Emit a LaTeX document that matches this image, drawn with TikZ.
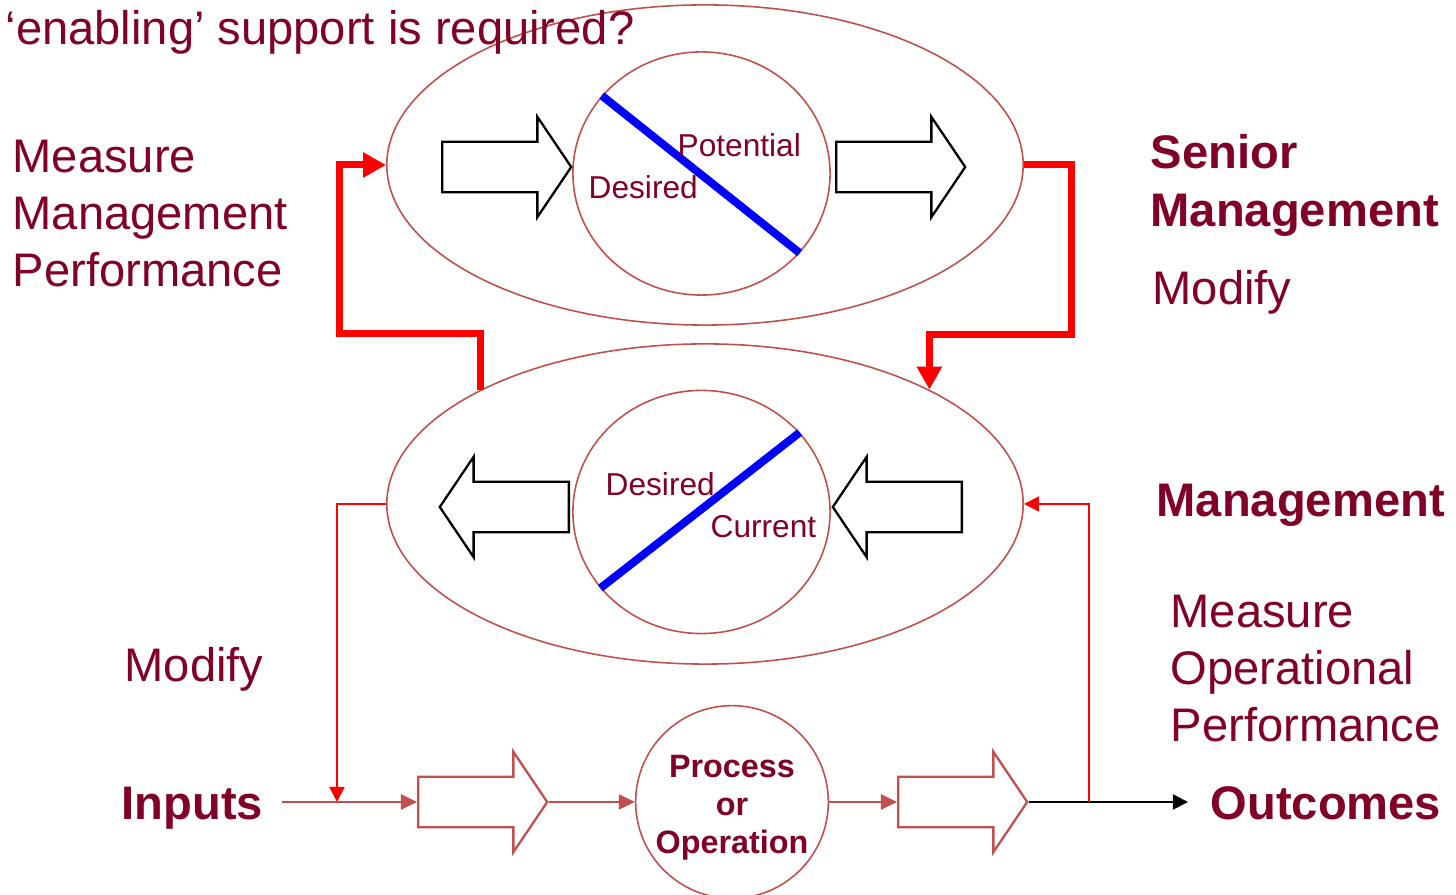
\documentclass[tikz,border=0pt]{standalone}
\usepackage{fontspec}
\setmainfont{Liberation Sans}
\usepackage{xcolor}
\usepackage{tikz}
\usetikzlibrary{shapes}
\usetikzlibrary{shapes.geometric}
\usetikzlibrary{shapes.arrows}
\usetikzlibrary{arrows.meta}
\usetikzlibrary{positioning}
\definecolor{wine}{RGB}{128,0,38}
\definecolor{rimred}{RGB}{192,80,77}
\tikzset{
    bigtext/.style = {text=wine, inner sep=0pt, align=left, font=\fontsize{13.4}{16.3}\selectfont},
    bigbold/.style = {text=wine, inner sep=0pt, align=left, font=\fontsize{13.4}{16.6}\selectfont\bfseries},
    smalltext/.style = {text=wine, inner sep=0pt, font=\fontsize{9}{11}\selectfont},
    levelring/.style = {ellipse, draw=rimred, line width=0.45pt, minimum width=6.36cm, minimum height=3.2cm, inner sep=0pt},
    gapring/.style = {ellipse, draw=rimred, line width=0.45pt, minimum width=2.57cm, minimum height=2.43cm, inner sep=0pt},
    procring/.style = {circle, draw=rimred, line width=0.45pt, minimum size=1.92cm, inner sep=0pt, align=center, text=wine, font=\fontsize{9.2}{10.8}\selectfont\bfseries},
    blockarrow/.style = {single arrow, draw=black, line width=0.65pt, minimum height=1.29cm, text width=0pt, text height=0.24cm, text depth=0.24cm, single arrow head extend=0.25cm, single arrow tip angle=112, inner sep=0pt},
    flowarrow/.style = {blockarrow, draw=rimred},
}

\begin{document}
\begin{tikzpicture}[
	x=0.01cm, y=-0.01cm,
	fbthick/.style = {draw=red, line width=0.07cm, -{Triangle[length=0.23cm,width=0.24cm]}},
	fbthin/.style = {draw=red, line width=0.5pt, -{Triangle[length=0.15cm,width=0.15cm]}},
	flow/.style = {draw=rimred, line width=0.6pt, -{Triangle[length=0.16cm,width=0.15cm]}},
	outflow/.style = {draw=black, line width=0.6pt, -{Triangle[length=0.15cm,width=0.15cm]}},
	slash/.style = {draw=blue, line width=0.08cm}
]
\useasboundingbox (0,0) rectangle (1456,895);
% levels
\node[levelring] (senior) at (705,165) {};
\node[levelring] (oper) at (705,504) {};
\node[gapring] (seniorgap) at (701.5,173.5) {};
\node[gapring] (opergap) at (701.5,512) {};
\draw[slash] (seniorgap.142) -- (seniorgap.-39.5);
\draw[slash] (opergap.217.4) -- (opergap.39.7);
\node[smalltext, anchor=base west] (potential) at (677,157) {Potential};
\node[smalltext, anchor=base west] (sdesired) at (588,199) {Desired};
\node[smalltext, anchor=base west] (odesired) at (605,496) {Desired};
\node[smalltext, anchor=base west] (current) at (710,538) {Current};
%
\node[blockarrow, anchor=tail] (sin) at (441,167) {};
\node[blockarrow, anchor=tail] (sout) at (835,167) {};
\node[blockarrow, shape border rotate=180, anchor=tail] (oout) at (570,507) {};
\node[blockarrow, shape border rotate=180, anchor=tail] (oin) at (963,507) {};
% process row
\node[flowarrow, anchor=tail] (inarrow) at (417,802) {};
\node[procring] (proc) at (732,802) {\rule{0pt}{9.8pt}Process\\or\\Operation};
\node[flowarrow, anchor=tail] (outarrow) at (897,802) {};
\coordinate (inbeg) at (282,802);
\coordinate (mergein) at (337,802);
\coordinate (mergeout) at (1089,802);
\coordinate (outend) at (1188,802);
% texts
\node[bigtext, anchor=base west] (question) at (5,45) {‘enabling’ support is required?};
\node[bigtext, anchor=base west] (measmgmt) at (12,287) {Measure\\Management\\Performance};
\node[bigbold, anchor=base west] (seniorlbl) at (1150,227) {Senior\\Management};
\node[bigtext, anchor=base west] (modifyr) at (1152,305) {Modify};
\node[bigbold, anchor=base west] (mgmtlbl) at (1156,517) {Management};
\node[bigtext, anchor=base west] (measoper) at (1170,742) {Measure\\Operational\\Performance};
\node[bigtext, anchor=base west] (modifyl) at (124,682) {Modify};
\node[bigbold, anchor=base west] (inputs) at (121,820) {Inputs};
\node[bigbold, anchor=base west] (outcomes) at (1210,820) {Outcomes};
% connectors
\draw[flow] (inbeg) -- (inarrow.tail);
\draw[flow] (inarrow.tip) -- (proc.west);
\draw[flow] (proc.east) -- (outarrow.tail);
\draw[outflow] (outarrow.tip) -- (outend);
%
\draw[fbthin] (oper.west) -| (mergein);
\draw[fbthin] (mergeout) |- (oper.east);
%
\draw[fbthick] (oper.153.3) |- ++(-141,-56) |- (senior.west);
\draw[fbthick] (senior.east) -| ++(48,170) -| (oper.27.3);
\end{tikzpicture}
\end{document}
